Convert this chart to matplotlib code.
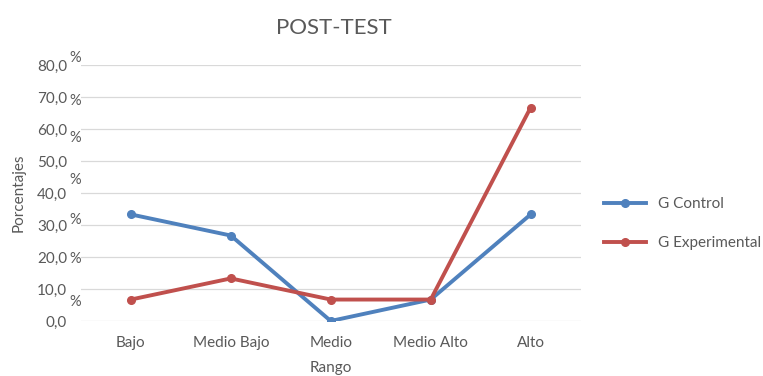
import matplotlib.pyplot as plt

categorias = ["Bajo", "Medio Bajo", "Medio", "Medio Alto", "Alto"]
g_control = [33.3, 26.7, 0.0, 6.7, 33.3]
g_experimental = [6.7, 13.3, 6.7, 6.7, 66.7]
yticks = [0, 10, 20, 30, 40, 50, 60, 70, 80]
ytick_labels = ["0,0", "10,0", "20,0", "30,0", "40,0", "50,0", "60,0", "70,0", "80,0"]
# stray "%" signs of the original labels (value, in y units)
pct_y = [82.2, 68.8, 57.2, 44.0, 31.6, 19.4, 5.9]

gris = "#595959"
plt.rcParams['font.family'] = ['Lato', 'DejaVu Sans']

fig = plt.figure(figsize=(7.63, 3.76), dpi=100)
ax = fig.add_axes([0.106, 0.1463, 0.655, 0.681])

x = range(len(categorias))
ax.plot(x, g_control, color="#4F81BD", lw=2.8, marker="o", ms=5.5, label="G Control")
ax.plot(x, g_experimental, color="#C0504D", lw=2.8, marker="o", ms=5.5, label="G Experimental")

ax.set_xlim(-0.5, len(categorias) - 0.5)
ax.set_ylim(0, 80)
ax.set_xticks(list(x))
ax.set_xticklabels(categorias, fontsize=11, color=gris)
ax.set_yticks(yticks)
ax.set_yticklabels(ytick_labels, fontsize=11, color=gris)
ax.tick_params(axis="both", length=0)
ax.tick_params(axis="y", pad=10)
ax.tick_params(axis="x", pad=11)
ax.grid(axis="y", color="#D9D9D9", lw=0.9)
ax.set_axisbelow(True)
for s in ax.spines.values():
    s.set_visible(False)

for v in pct_y:
    ax.text(-0.56, v, "%", fontsize=10.5, color=gris, ha="center", va="center",
            transform=ax.transData, clip_on=False)

ax.set_xlabel("Rango", fontsize=11, color=gris, labelpad=8)
ax.set_ylabel("Porcentajes", fontsize=11, color=gris, labelpad=8)
fig.text(0.437, 0.925, "POST-TEST", fontsize=16, color=gris, ha="center", va="center")

ax.legend(loc="center left", bbox_to_anchor=(1.02, 0.38), frameon=False,
          fontsize=11, labelcolor=gris, handlelength=2.7, labelspacing=1.6)

fig.savefig("out.png", dpi=100)
